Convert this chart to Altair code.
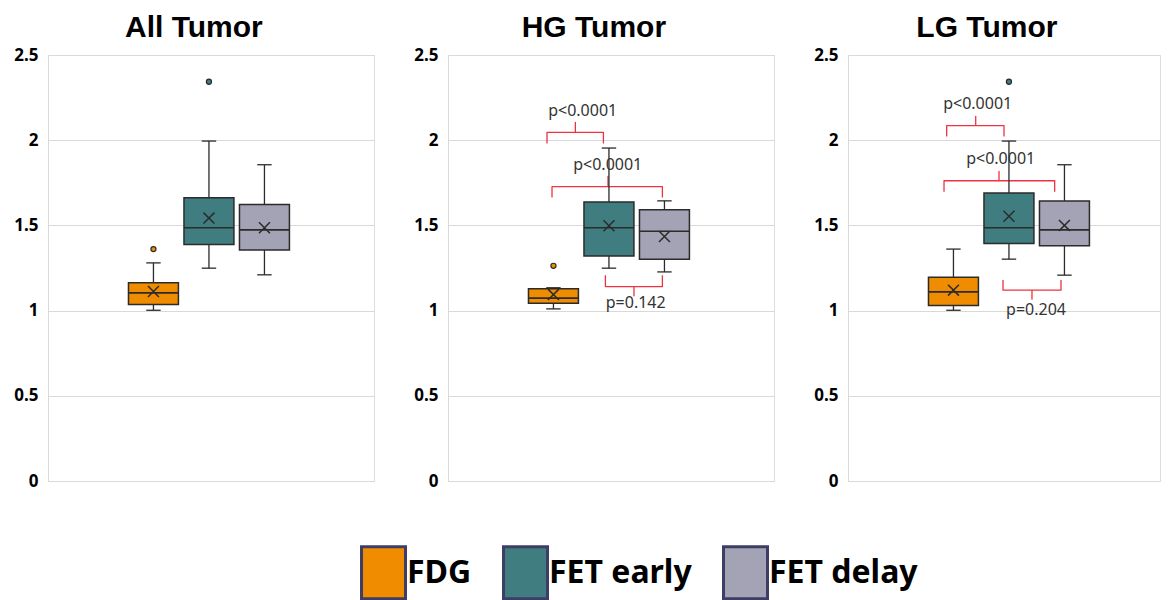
import altair as alt
import pandas as pd

PANELS = ["All Tumor", "HG Tumor", "LG Tumor"]
GROUPS = ["FDG", "FET early", "FET delay"]
COLORS = ["#F08C00", "#3F7D80", "#A3A3B5"]

# box statistics, in GROUPS order
ALL_LOW = [1.002, 1.249, 1.210]
ALL_Q1 = [1.036, 1.388, 1.355]
ALL_MED = [1.104, 1.486, 1.474]
ALL_Q3 = [1.163, 1.662, 1.623]
ALL_HIGH = [1.280, 1.995, 1.856]
ALL_MEAN = [1.112, 1.543, 1.486]

HG_LOW = [1.010, 1.249, 1.227]
HG_Q1 = [1.043, 1.321, 1.302]
HG_MED = [1.073, 1.486, 1.466]
HG_Q3 = [1.128, 1.637, 1.592]
HG_HIGH = [1.134, 1.954, 1.644]
HG_MEAN = [1.094, 1.498, 1.435]

LG_LOW = [1.002, 1.302, 1.208]
LG_Q1 = [1.030, 1.394, 1.380]
LG_MED = [1.110, 1.486, 1.474]
LG_Q3 = [1.196, 1.690, 1.643]
LG_HIGH = [1.361, 1.995, 1.856]
LG_MEAN = [1.120, 1.554, 1.500]

OUT_PANEL = ["All Tumor", "All Tumor", "HG Tumor", "LG Tumor"]
OUT_GROUP = ["FDG", "FET early", "FDG", "FET early"]
OUT_VALUE = [1.361, 2.343, 1.263, 2.343]

# significance brackets (x in category units: FDG=1, FET early=2, FET delay=3)
BR_PANEL = ["HG Tumor", "HG Tumor", "HG Tumor", "LG Tumor", "LG Tumor", "LG Tumor"]
BR_LEFT = [0.884, 0.974, 1.936, 0.878, 0.830, 1.893]
BR_RIGHT = [1.900, 2.963, 2.963, 1.911, 2.824, 2.938]
BR_MID = [1.395, 1.983, 2.451, 1.401, 1.821, 2.415]
BR_LEVEL = [2.046, 1.727, 1.141, 2.085, 1.762, 1.120]
BR_END = [1.981, 1.664, 1.208, 2.022, 1.697, 1.179]
BR_TIP = [2.105, 1.787, 1.087, 2.140, 1.817, 1.067]
BR_LABEL = ["p<0.0001", "p<0.0001", "p=0.142", "p<0.0001", "p<0.0001", "p=0.204"]
BR_TEXT_X = [1.527, 1.978, 2.482, 1.437, 1.851, 2.487]
BR_TEXT_Y = [2.173, 1.856, 1.043, 2.212, 1.889, 1.004]

Y_TICKS = [0, 0.5, 1, 1.5, 2, 2.5]

FONT = "Noto Sans"
TITLE_FONT = "Liberation Sans"
DARK = "#2b2b2b"
RED = "#EE3340"
BOX_HALF = 0.45
CAP_HALF = 0.13
X_MIN = -0.9
X_PATH = "M-1,-1L1,1M-1,1L1,-1"

stats = {
    "All Tumor": (ALL_LOW, ALL_Q1, ALL_MED, ALL_Q3, ALL_HIGH, ALL_MEAN),
    "HG Tumor": (HG_LOW, HG_Q1, HG_MED, HG_Q3, HG_HIGH, HG_MEAN),
    "LG Tumor": (LG_LOW, LG_Q1, LG_MED, LG_Q3, LG_HIGH, LG_MEAN),
}
rows = []
for p in PANELS:
    lo, q1, md, q3, hi, mn = stats[p]
    for i, g in enumerate(GROUPS):
        rows.append(dict(panel=p, group=g, pos=i + 1, low=lo[i], q1=q1[i],
                         median=md[i], q3=q3[i], high=hi[i], mean=mn[i]))
box_df = pd.DataFrame(rows)

out_df = pd.DataFrame(dict(panel=OUT_PANEL, group=OUT_GROUP, value=OUT_VALUE,
                           pos=[GROUPS.index(g) + 1 for g in OUT_GROUP]))

path_rows = []
for i in range(len(BR_PANEL)):
    pts = [(BR_LEFT[i], BR_END[i]), (BR_LEFT[i], BR_LEVEL[i]), (BR_MID[i], BR_LEVEL[i]),
           (BR_MID[i], BR_TIP[i]), (BR_MID[i], BR_LEVEL[i]), (BR_RIGHT[i], BR_LEVEL[i]),
           (BR_RIGHT[i], BR_END[i])]
    for k, (bx, by) in enumerate(pts):
        path_rows.append(dict(panel=BR_PANEL[i], bid=i, order=k, bx=bx, by=by))
br_df = pd.DataFrame(path_rows)
txt_df = pd.DataFrame(dict(panel=BR_PANEL, label=BR_LABEL, tx=BR_TEXT_X, ty=BR_TEXT_Y))

color_scale = alt.Scale(domain=GROUPS, range=COLORS)
legend = alt.Legend(
    title=None, orient="none", direction="horizontal", legendX=304, legendY=490,
    symbolType="M-0.692,-1L1,-1L1,1L-0.692,1Z", symbolSize=2704,
    symbolStrokeColor="#3D3D66", symbolStrokeWidth=3, symbolOpacity=1,
    labelFont=FONT, labelFontSize=32, labelFontWeight="bold", labelColor="black",
    labelOffset=0, columnPadding=22, labelLimit=300,
)

y_axis = alt.Axis(values=Y_TICKS, format="~g", grid=True, gridColor="#D9D9D9",
                  domainColor="#D9D9D9", ticks=False, labelFontSize=17,
                  labelFontWeight="bold", labelColor="black", labelFont=FONT,
                  labelPadding=10, title=None)
y_scale = alt.Scale(domain=[0, 2.5], nice=False, zero=True)


def panel(name, width, height):
    x_scale = alt.Scale(domain=[X_MIN, X_MIN + width / 55.5], nice=False, zero=False)

    def X(f):
        return alt.X(f, type="quantitative", scale=x_scale, axis=None)

    def Y(f):
        return alt.Y(f, type="quantitative", scale=y_scale, axis=y_axis)

    base = alt.Chart(box_df).transform_filter(alt.datum.panel == name).transform_calculate(
        xl=f"datum.pos - {BOX_HALF}", xr=f"datum.pos + {BOX_HALF}",
        cl=f"datum.pos - {CAP_HALF}", cr=f"datum.pos + {CAP_HALF}")
    whisker = base.mark_rule(color=DARK, strokeWidth=1.3).encode(x=X("pos"), y=Y("low"), y2="high:Q")
    box = base.mark_bar(stroke=DARK, strokeWidth=1.5, opacity=1).encode(
        x=X("xl"), x2="xr:Q", y=Y("q1"), y2="q3:Q",
        color=alt.Color("group:N", scale=color_scale, sort=GROUPS, legend=legend))
    median = base.mark_rule(color=DARK, strokeWidth=1.6).encode(x=X("xl"), x2="xr:Q", y=Y("median"))
    cap_lo = base.mark_rule(color=DARK, strokeWidth=1.3).encode(x=X("cl"), x2="cr:Q", y=Y("low"))
    cap_hi = base.mark_rule(color=DARK, strokeWidth=1.3).encode(x=X("cl"), x2="cr:Q", y=Y("high"))
    mean = base.mark_point(shape=X_PATH, filled=False, stroke=DARK, strokeWidth=1.5,
                           size=120, opacity=1).encode(x=X("pos"), y=Y("mean"))
    outl = alt.Chart(out_df).transform_filter(alt.datum.panel == name).mark_point(
        filled=True, size=26, stroke=DARK, strokeWidth=1.2, opacity=1).encode(
        x=X("pos"), y=Y("value"),
        color=alt.Color("group:N", scale=color_scale, sort=GROUPS, legend=None))
    layers = [whisker, box, median, cap_lo, cap_hi, mean, outl]
    if name in BR_PANEL:
        br = alt.Chart(br_df).transform_filter(alt.datum.panel == name).mark_line(
            color=RED, strokeWidth=1.3, strokeJoin="round").encode(
            x=X("bx"), y=Y("by"), detail="bid:N", order="order:Q")
        tx = alt.Chart(txt_df).transform_filter(alt.datum.panel == name).mark_text(
            font=FONT, fontSize=16, color="#333333").encode(x=X("tx"), y=Y("ty"), text="label:N")
        layers = [br] + layers + [tx]
    return alt.layer(*layers).properties(
        width=width, height=height,
        title=alt.TitleParams(name, fontSize=30, fontWeight="bold", font=TITLE_FONT,
                              color="black", anchor="middle", frame="bounds", offset=3))


chart = alt.hconcat(
    panel(PANELS[0], 326, 426),
    panel(PANELS[1], 326, 426),
    panel(PANELS[2], 312, 426),
    spacing=38,
).properties(
    padding={"left": 5, "top": 4, "right": 0, "bottom": 0}
).configure_view(strokeWidth=0).configure(font=FONT)

chart.save("out.html", embed_options={"renderer": "svg", "actions": False})
